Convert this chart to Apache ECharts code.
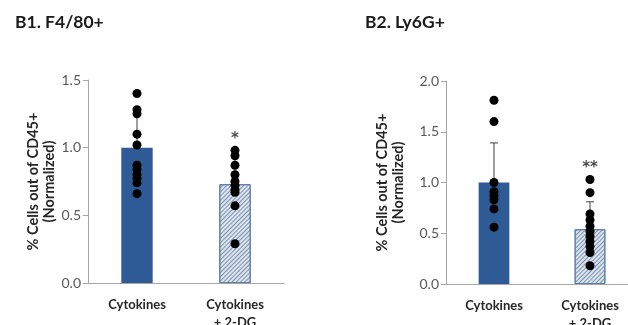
<!DOCTYPE html>
<html><head><meta charset="utf-8">
<script src="https://cdn.jsdelivr.net/npm/echarts@6/dist/echarts.min.js"></script>
<style>html,body{margin:0;padding:0;background:#fff}#c{width:628px;height:325px}</style>
</head><body><div id="c"></div>
<script>
const categories = ['Cytokines', 'Cytokines\n+ 2-DG'];
const yTicksB1 = [0, 0.5, 1.0, 1.5];
const yTicksB2 = [0, 0.5, 1.0, 1.5, 2.0];
const meansB1 = [1.0, 0.73];
const sdB1 = [0.25, 0.20];
const dotsB1Cyto = [1.40, 1.28, 1.25, 1.10, 1.02, 0.87, 0.84, 0.80, 0.77, 0.74, 0.66];
const dotsB1DG = [0.98, 0.94, 0.87, 0.80, 0.75, 0.72, 0.69, 0.67, 0.57, 0.29];
const starB1 = [[1, 1.06, '*']];
const meansB2 = [1.0, 0.54];
const sdB2 = [0.39, 0.27];
const dotsB2Cyto = [1.81, 1.60, 1.00, 0.91, 0.87, 0.83, 0.74, 0.56];
const dotsB2DG = [1.03, 0.90, 0.69, 0.63, 0.57, 0.52, 0.47, 0.42, 0.37, 0.31, 0.18];
const starB2 = [[1, 1.14, '**']];

const FONT = 'Lato';
const solidColor = '#2E5B95';
const hatchStyle = {
  color: '#dce4ee', borderColor: '#5d7ea8', borderWidth: 1,
  decal: { symbol: 'rect', symbolSize: 1, dashArrayX: [1, 0], dashArrayY: [1, 1.4], rotation: -Math.PI / 4, color: 'rgba(100,125,160,0.8)' }
};

function barData(means) {
  return means.map((m, i) => i === 0 ? { value: m, itemStyle: { color: solidColor } } : { value: m, itemStyle: hatchStyle });
}
function errData(means, sds) { return means.map((m, i) => [i, m, sds[i]]); }
function dotData(a, b) { return a.map(v => [0, v]).concat(b.map(v => [1, v])); }

function errRender(params, api) {
  const x = api.value(0), m = api.value(1), s = api.value(2);
  const p0 = api.coord([x, m]), p1 = api.coord([x, m + s]);
  const st = { stroke: '#404040', lineWidth: 1 };
  return { type: 'group', children: [
    { type: 'line', shape: { x1: p0[0], y1: p0[1], x2: p1[0], y2: p1[1] }, style: st },
    { type: 'line', shape: { x1: p1[0] - 4, y1: p1[1], x2: p1[0] + 4, y2: p1[1] }, style: st }
  ]};
}

function yAxis(gi, max, gap) {
  return {
    type: 'value', gridIndex: gi, min: 0, max: max, interval: 0.5,
    name: '% Cells out of CD45+\n(Normalized)', nameLocation: 'middle', nameRotate: 90, nameGap: gap,
    nameTextStyle: { fontFamily: FONT, fontWeight: 'bold', fontSize: 14.5, color: '#262626', lineHeight: 16 },
    axisLine: { show: true, lineStyle: { color: '#a6a6a6' } },
    axisTick: { show: true, length: 5, lineStyle: { color: '#a6a6a6' } },
    splitLine: { show: false },
    axisLabel: { fontFamily: FONT, fontSize: 14, color: '#595959', margin: 7, formatter: v => v.toFixed(1) }
  };
}
function xAxis(gi) {
  return {
    type: 'category', gridIndex: gi, data: categories,
    axisLine: { lineStyle: { color: '#a6a6a6' } }, axisTick: { show: false },
    axisLabel: { fontFamily: FONT, fontWeight: 'bold', fontSize: 13, color: '#262626', margin: 13, lineHeight: 18, interval: 0 }
  };
}

const chart = echarts.init(document.getElementById('c'), null, { renderer: 'canvas' });
const option = {
  animation: false,
  title: [
    { text: 'B1. F4/80+', left: 10, top: 8, textStyle: { fontFamily: FONT, fontWeight: 'bold', fontSize: 17.5, color: '#1a1a1a' } },
    { text: 'B2. Ly6G+', left: 360, top: 8, textStyle: { fontFamily: FONT, fontWeight: 'bold', fontSize: 17.5, color: '#1a1a1a' } }
  ],
  grid: [
    { left: 88, top: 80, width: 196, height: 203, containLabel: false, outerBoundsMode: 'none' },
    { left: 446, top: 81, width: 192, height: 203, containLabel: false, outerBoundsMode: 'none' }
  ],
  xAxis: [xAxis(0), xAxis(1)],
  yAxis: [yAxis(0, 1.5, 30), yAxis(1, 2.0, 40)],
  series: [
    { type: 'bar', xAxisIndex: 0, yAxisIndex: 0, data: barData(meansB1), barWidth: '32%', z: 1 },
    { type: 'bar', xAxisIndex: 1, yAxisIndex: 1, data: barData(meansB2), barWidth: '32%', z: 1 },
    { type: 'custom', xAxisIndex: 0, yAxisIndex: 0, renderItem: errRender, data: errData(meansB1, sdB1), z: 2 },
    { type: 'custom', xAxisIndex: 1, yAxisIndex: 1, renderItem: errRender, data: errData(meansB2, sdB2), z: 2 },
    { type: 'scatter', xAxisIndex: 0, yAxisIndex: 0, data: dotData(dotsB1Cyto, dotsB1DG), symbolSize: 9, itemStyle: { color: '#000', opacity: 1 }, z: 3 },
    { type: 'scatter', xAxisIndex: 1, yAxisIndex: 1, data: dotData(dotsB2Cyto, dotsB2DG), symbolSize: 9, itemStyle: { color: '#000', opacity: 1 }, z: 3 },
    { type: 'scatter', xAxisIndex: 0, yAxisIndex: 0, data: starB1, symbolSize: 0,
      label: { show: true, position: 'inside', formatter: p => p.data[2], fontFamily: 'DejaVu Sans', fontWeight: 'bold', fontSize: 15, color: '#1a1a1a' }, z: 4 },
    { type: 'scatter', xAxisIndex: 1, yAxisIndex: 1, data: starB2, symbolSize: 0,
      label: { show: true, position: 'inside', formatter: p => p.data[2], fontFamily: 'DejaVu Sans', fontWeight: 'bold', fontSize: 15, color: '#1a1a1a' }, z: 4 }
  ]
};
chart.setOption(option);
</script></body></html>
